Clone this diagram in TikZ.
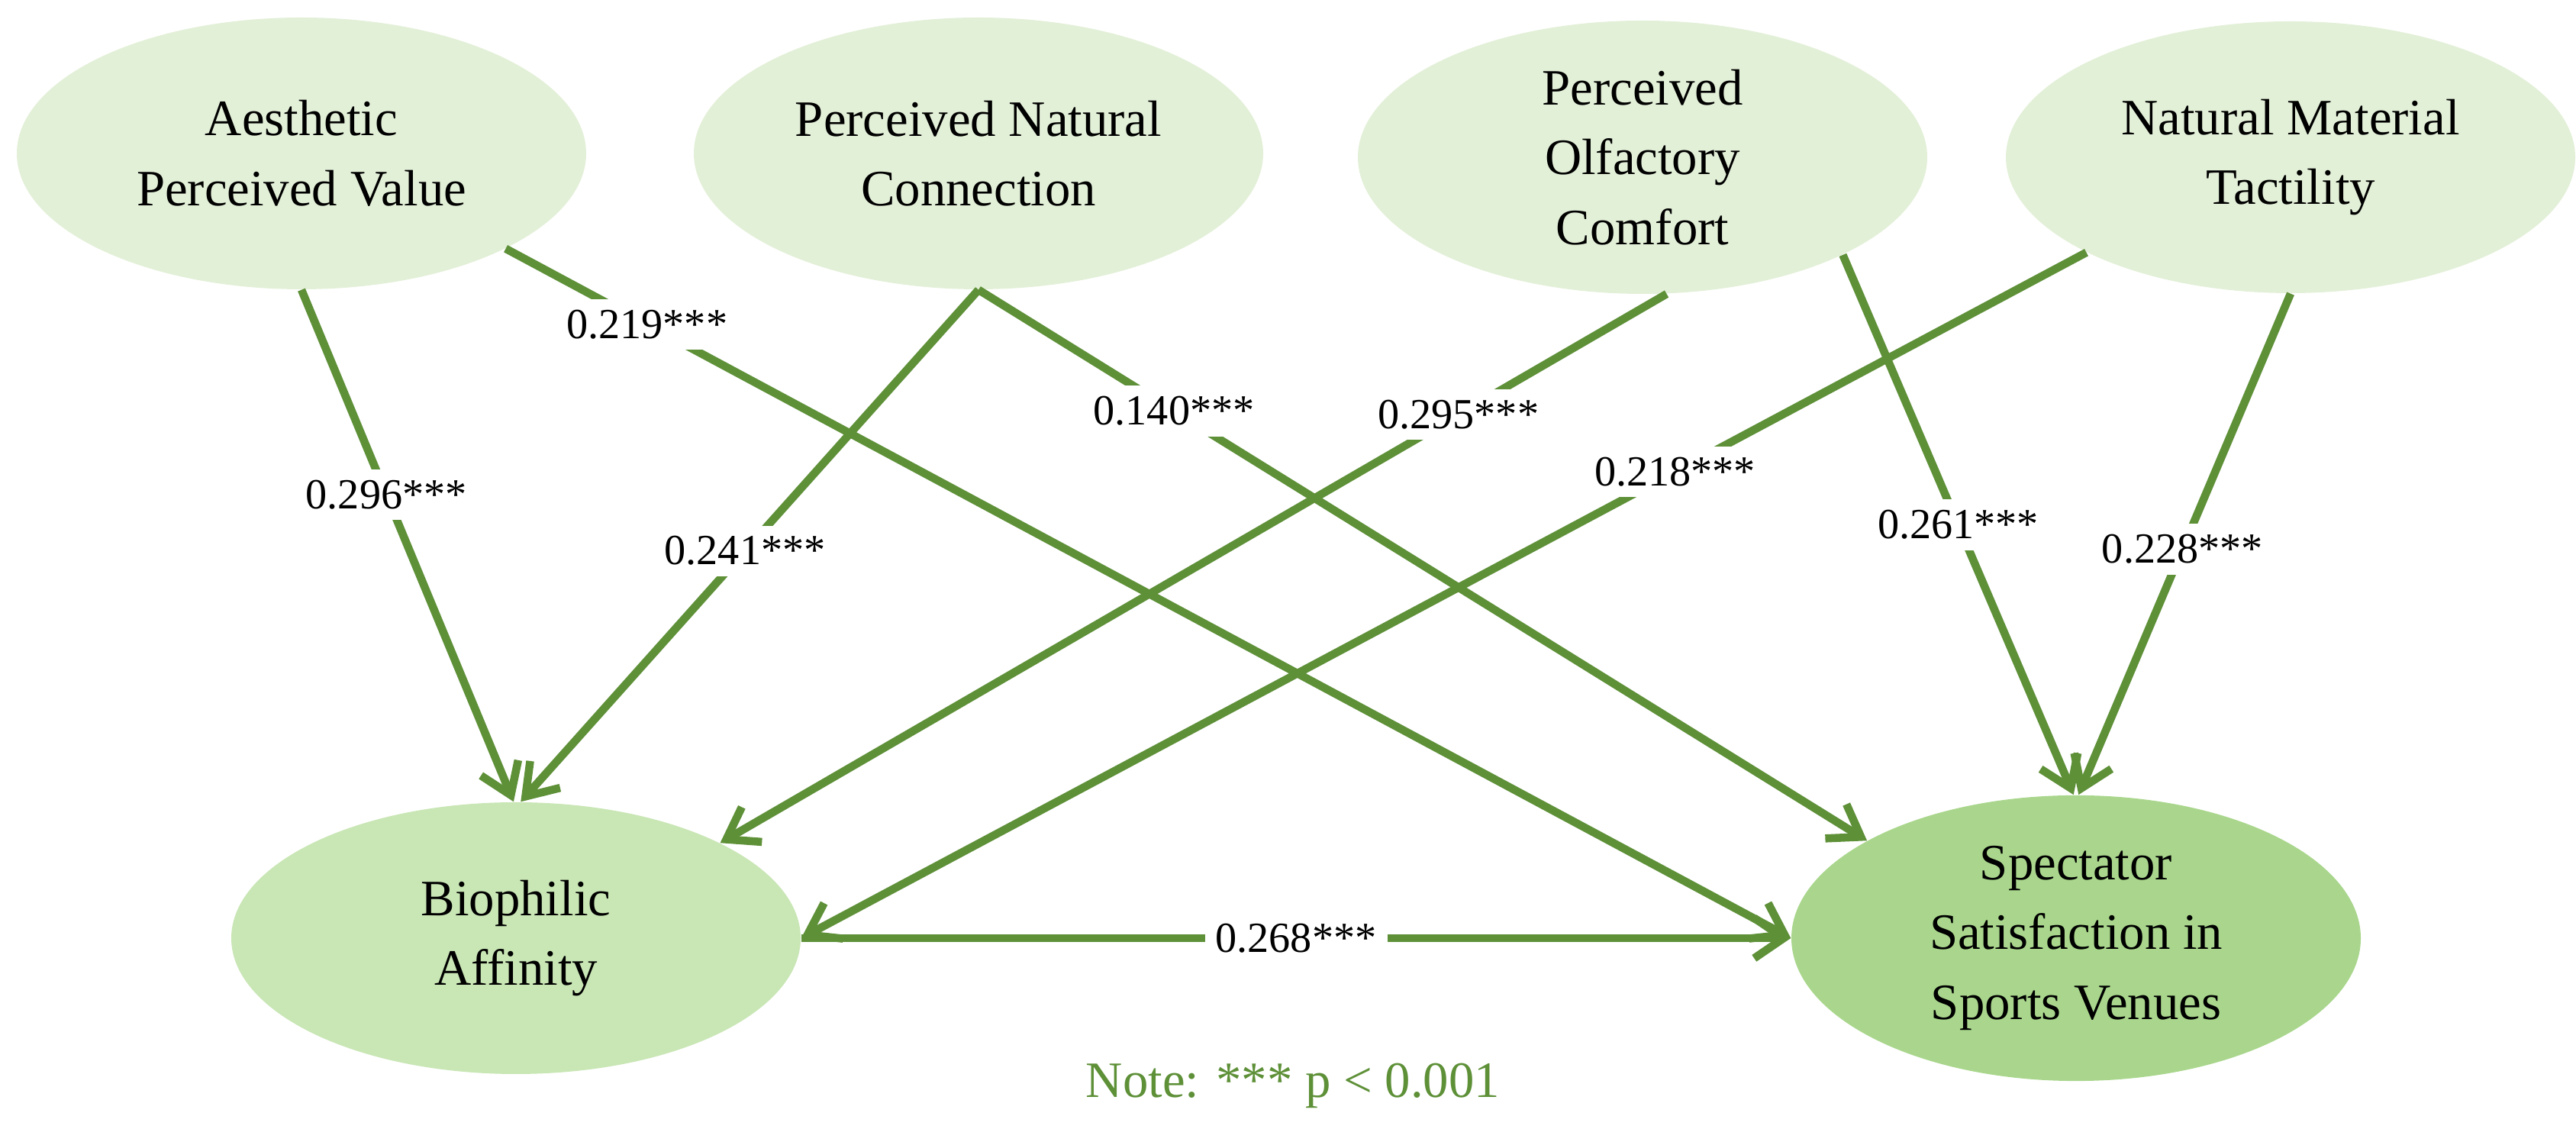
\documentclass[tikz,border=0pt]{standalone}
\usepackage{fontspec}
\setmainfont{Liberation Serif}
\usetikzlibrary{arrows.meta,shapes.geometric}
\definecolor{topfill}{HTML}{E3F0D8}
\definecolor{biofill}{HTML}{C9E6B5}
\definecolor{specfill}{HTML}{A9D68C}
\definecolor{pathgreen}{HTML}{5E9038}
\tikzset{
 construct/.style={ellipse,draw=none,minimum width=7.46cm,minimum height=3.56cm,align=center,font=\fontsize{19}{26}\selectfont},
 path/.style={draw=pathgreen,line width=3pt,-{Straight Barb[length=11pt,width=15pt,line width=3pt]}},
 coef/.style={fill=white,inner sep=4pt,font=\fontsize{16}{18}\selectfont}
}
\begin{document}
\begin{tikzpicture}
\useasboundingbox (0,0) rectangle (33.75,14.79);
\node[construct,fill=topfill] (aes) at (3.95,12.78) {Aesthetic\\Perceived Value};
\node[construct,fill=topfill] (pnc) at (12.82,12.78) {Perceived Natural\\Connection};
\node[construct,fill=topfill] (poc) at (21.52,12.73) {Perceived\\Olfactory\\Comfort};
\node[construct,fill=topfill] (nmt) at (30.01,12.73) {Natural Material\\Tactility};
\node[construct,fill=biofill] (bio) at (6.76,2.50) {Biophilic\\Affinity};
\node[construct,fill=specfill] (spec) at (27.20,2.50) {Spectator\\Satisfaction in\\Sports Venues};

\draw[path] (aes.-90) -- node[coef,pos=0.4]{0.296***} (bio.91);
\draw[path] (aes.-25) -- node[coef,pos=0.11]{0.219***} (spec.180);
\draw[path] (pnc.-90) -- node[coef,pos=0.51]{0.241***} (bio.88);
\draw[path] (pnc.-90) -- node[coef,pos=0.22]{0.140***} (spec.155);
\draw[path] (poc.-80) -- node[coef,pos=0.22]{0.295***} (bio.25);
\draw[path] (nmt.205) -- node[coef,pos=0.32]{0.218***} (bio.0);
\draw[path] (poc.-26) -- node[coef,pos=0.5]{0.261***} (spec.91);
\draw[path] (nmt.-90) -- node[coef,pos=0.51]{0.228***} (spec.89);
\draw[path] (bio.0) -- node[coef,pos=0.5]{0.268***} (spec.180);

\node[text=pathgreen,font=\fontsize{19}{22}\selectfont] (note) at (16.94,0.57) {Note: *** p < 0.001};
\end{tikzpicture}
\end{document}
